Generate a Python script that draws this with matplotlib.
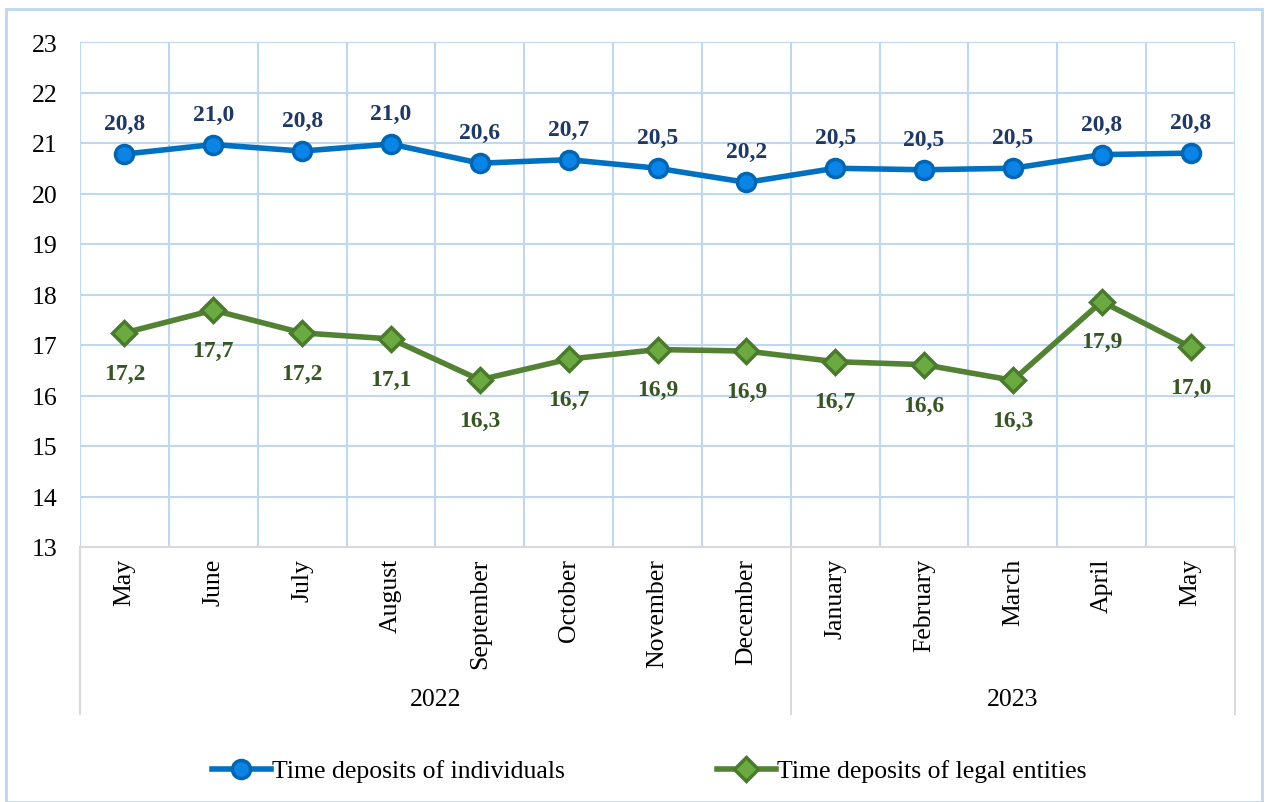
import matplotlib.pyplot as plt
from matplotlib.patches import Rectangle
from matplotlib.lines import Line2D
import numpy as np

plt.rcParams['font.family'] = ['Liberation Serif', 'DejaVu Serif']

# данные
months = ["May", "June", "July", "August", "September", "October", "November",
          "December", "January", "February", "March", "April", "May"]
years = ["2022", "2023"]
year_counts = [8, 5]
individuals = [20.78, 20.97, 20.84, 20.98, 20.60, 20.67, 20.50, 20.22, 20.50, 20.47, 20.50, 20.77, 20.80]
legal = [17.24, 17.69, 17.24, 17.12, 16.31, 16.72, 16.91, 16.88, 16.67, 16.61, 16.30, 17.86, 16.96]

W, H = 1268, 803
fig = plt.figure(figsize=(W / 100, H / 100), dpi=100, facecolor="w")
ax = fig.add_axes([80 / W, 1 - 548 / H, 1155 / W, 505 / H])

x = np.arange(len(months))
grid_c = "#C0D8EF"
fs = 18.5

ax.set_xlim(-0.5, len(months) - 0.5)
ax.set_ylim(13, 23)
ax.set_yticks(np.arange(13, 24, 1))
ax.set_xticks(x)
ax.set_xticklabels(months, rotation=90, fontsize=fs, va="top")
ax.set_xticks(np.arange(-0.5, len(months), 1), minor=True)
ax.tick_params(axis="x", which="both", length=0, pad=8)
ax.tick_params(axis="y", length=0, pad=16, labelsize=fs)
ax.grid(True, axis="y", color=grid_c, lw=1.5)
ax.grid(True, axis="x", which="minor", color=grid_c, lw=1.5)
ax.grid(False, axis="x", which="major")
ax.set_axisbelow(True)
for s in ["top", "right", "left"]:
    ax.spines[s].set_visible(False)
ax.spines["bottom"].set_color("#D9D9D9")
ax.spines["bottom"].set_linewidth(1.5)

st_ind = dict(color="#0070C0", lw=4, marker="o", ms=13,
              mfc="#0A84E6", mec="#0066B3", mew=2.5)
st_leg = dict(color="#548235", lw=4, marker="D", ms=12,
              mfc="#6AAA40", mec="#4B7A2E", mew=2.5)
ax.plot(x, individuals, zorder=3, **st_ind)
ax.plot(x, legal, zorder=3, **st_leg)

for xi, v in zip(x, individuals):
    ax.annotate(f"{v:.1f}".replace(".", ","), (xi, v), xytext=(0, 22),
                textcoords="offset points", ha="center", va="center",
                fontsize=17, fontweight="bold", color="#1F3864")
for xi, v in zip(x, legal):
    ax.annotate(f"{v:.1f}".replace(".", ","), (xi, v), xytext=(0, -29),
                textcoords="offset points", ha="center", va="center",
                fontsize=17, fontweight="bold", color="#375623")

# подписи годов и разделители
tr = ax.get_xaxis_transform()
y_bot = -(715 - 548) / 505
start = -0.5
seps = [start]
for yr, n in zip(years, year_counts):
    ax.text(start + n / 2, -(700 - 548) / 505, yr, transform=tr,
            ha="center", va="center", fontsize=fs)
    start += n
    seps.append(start)
for s in seps:
    ax.add_line(Line2D([s, s], [0, y_bot], transform=tr, color="#D9D9D9",
                       lw=1.5, clip_on=False))

# легенда
h1 = Line2D([], [], **st_ind)
h2 = Line2D([], [], **st_leg)
fig.legend([h1, h2], ["Time deposits of individuals", "Time deposits of legal entities"],
           loc="center", bbox_to_anchor=(0.512, 1 - 772 / H), ncol=2, frameon=False,
           fontsize=fs, handlelength=2.3, handletextpad=0.05, columnspacing=5.9)

fig.add_artist(Rectangle((6 / W, 0), (1262 - 6) / W, 1 - 10 / H,
                         transform=fig.transFigure, fill=False,
                         ec="#BDD7EE", lw=2))

fig.savefig("out.png", dpi=100)
